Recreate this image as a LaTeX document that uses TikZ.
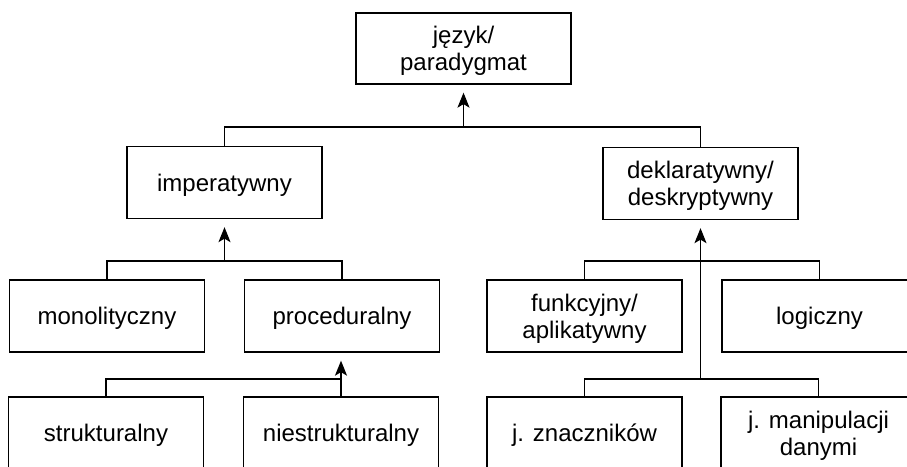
\documentclass[tikz,border=0pt]{standalone}
\usepackage{fontspec}
\setmainfont{Liberation Sans}
\usetikzlibrary{arrows.meta}
\begin{document}
\begin{tikzpicture}[x=1pt,y=-1pt,
  box/.style={draw, line width=1.3pt, inner sep=0pt, align=center,
    minimum width=195pt, minimum height=72pt, text depth=0pt,
    font=\fontsize{24}{27}\selectfont},
  conn/.style={line width=1.3pt},
  arr/.style={line width=1.3pt, -{Stealth[length=15pt,width=12pt,inset=3.5pt]}, shorten >=8pt}]
\useasboundingbox (0,0) rectangle (907,466);
\clip (0,0) rectangle (907,466);
\node[box, minimum width=215pt, minimum height=71pt] (top) at (463.5,48.5) {język/\\paradygmat};
\node[box] (imp) at (224.5,182.5) {imperatywny};
\node[box] (dek) at (700.5,183.5) {deklaratywny/\\deskryptywny};
\node[box] (mono) at (107,316) {monolityczny};
\node[box] (proc) at (342,316) {proceduralny};
\node[box] (funk) at (584.5,316) {funkcyjny/\\aplikatywny};
\node[box] (log) at (819.5,316) {logiczny};
\node[box] (struk) at (106,433) {strukturalny};
\node[box] (nstruk) at (341,433) {niestrukturalny};
\node[box] (znacz) at (584.5,433) {j. znaczników};
\node[box] (manip) at (818.5,433) {j. manipulacji\\danymi};
\coordinate (j1) at (463.5,127);
\coordinate (j2) at (224.5,261);
\coordinate (j3) at (700.5,261);
\coordinate (j4) at (341,379);
\coordinate (j5) at (700.5,379);
% level 1
\draw[conn] (imp.north) |- (j1) -| (dek.north);
\draw[arr] (j1) -- (top.south);
% imperatywny children
\draw[conn] (mono.north) |- (j2) -| (proc.north);
\draw[arr] (j2) -- (imp.south);
% proceduralny children
\draw[conn] (struk.north) |- (j4);
\draw[arr] (nstruk.north) -- (nstruk.north |- proc.south);
% deklaratywny children
\draw[conn] (funk.north) |- (j3) -| (log.north);
\draw[conn] (znacz.north) |- (j5) -| (manip.north);
\draw[arr] (j5) -- (dek.south);
\end{tikzpicture}
\end{document}
